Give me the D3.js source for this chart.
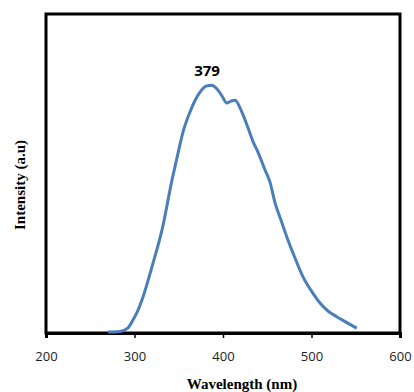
<!DOCTYPE html>
<html>
<head>
<meta charset="utf-8">
<script src="https://cdn.jsdelivr.net/npm/d3@7"></script>
<style>
  body { margin: 0; background: #fff; }
  svg { display: block; }
</style>
</head>
<body>
<div id="chart"></div>
<script>
// PL spectrum
const wavelength = [270, 283.6, 292.7, 298.3, 304, 309.6, 320.9, 331.1, 342.4, 348, 354.8, 362.7,
  374, 380.8, 387.2, 393.2, 398.9, 404.2, 409, 413.6, 421.1, 427.1, 433.9, 439.5, 447.5, 453.1,
  458.8, 465.5, 472, 481.4, 490.4, 500.6, 509.6, 518.6, 528.5, 539, 551.1];
const intensity = [0.003, 0.005, 0.016, 0.041, 0.072, 0.113, 0.219, 0.323, 0.48, 0.549, 0.63, 0.693,
  0.755, 0.774, 0.777, 0.765, 0.743, 0.721, 0.727, 0.73, 0.694, 0.652, 0.6, 0.567, 0.511, 0.473,
  0.408, 0.354, 0.302, 0.235, 0.176, 0.129, 0.094, 0.069, 0.051, 0.034, 0.015];
const xTicks = [200, 300, 400, 500, 600];
const peakLabel = "379";

const width = 414, height = 392;
const plotLeft = 46, plotRight = 400, plotTop = 14, plotBottom = 333;

const svg = d3.select("#chart").append("svg")
  .attr("width", width)
  .attr("height", height);

const x = d3.scaleLinear().domain([200, 600]).range([plotLeft, plotRight]);
const y = d3.scaleLinear().domain([0, 1]).range([plotBottom, plotTop]);

const data = wavelength.map((w, i) => ({ w: w, v: intensity[i] }));

// frame
svg.append("rect")
  .attr("x", plotLeft).attr("y", plotTop)
  .attr("width", plotRight - plotLeft).attr("height", plotBottom - plotTop)
  .attr("fill", "none")
  .attr("stroke", "#000")
  .attr("stroke-width", 3);

// x axis
const xAxis = svg.append("g")
  .attr("transform", "translate(0," + plotBottom + ")")
  .call(d3.axisBottom(x).tickValues(xTicks).tickSize(5).tickPadding(14));
xAxis.select(".domain").attr("stroke-width", 3);
xAxis.selectAll(".tick line").attr("stroke-width", 1.5);
xAxis.selectAll(".tick text")
  .attr("font-family", "'Open Sans', sans-serif")
  .attr("font-size", 13)
  .attr("fill", "#222");

// spectrum
svg.append("path")
  .datum(data)
  .attr("fill", "none")
  .attr("stroke", "#4a7ebb")
  .attr("stroke-width", 3)
  .attr("stroke-linejoin", "round")
  .attr("d", d3.line()
    .x(d => x(d.w))
    .y(d => y(d.v))
    .curve(d3.curveMonotoneX));

// peak label
svg.append("text")
  .attr("x", 207)
  .attr("y", 76)
  .attr("text-anchor", "middle")
  .attr("font-family", "'Open Sans', sans-serif")
  .attr("font-weight", "bold")
  .attr("font-size", 15)
  .text(peakLabel);

// axis titles
svg.append("text")
  .attr("x", 242)
  .attr("y", 389)
  .attr("text-anchor", "middle")
  .attr("font-family", "'Liberation Serif', serif")
  .attr("font-weight", "bold")
  .attr("font-size", 15)
  .text("Wavelength (nm)");

svg.append("text")
  .attr("transform", "translate(25,185) rotate(-90)")
  .attr("text-anchor", "middle")
  .attr("font-family", "'Liberation Serif', serif")
  .attr("font-weight", "bold")
  .attr("font-size", 15)
  .text("Intensity (a.u)");
</script>
</body>
</html>
